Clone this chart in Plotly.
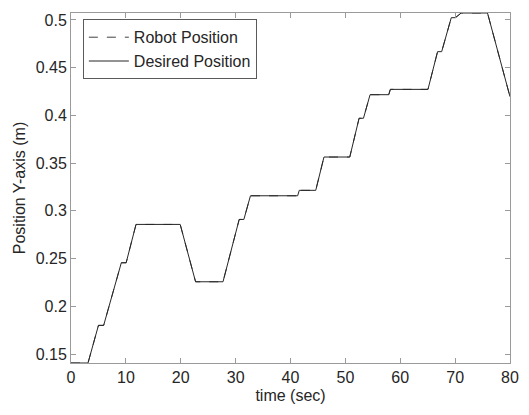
import plotly.graph_objects as go

# Data (time in sec, position in m)
time_s = [0, 3.1, 5.0, 5.95, 9.17, 10.05, 11.85, 19.9, 22.7, 27.7, 30.65, 31.5, 32.7,
          41.3, 41.6, 44.6, 46.1, 50.8, 52.5, 53.3, 54.5, 57.9, 58.2, 65.05, 66.8,
          67.55, 69.3, 70.05, 71.1, 75.9, 80]
desired_y = [0.1406, 0.1406, 0.180, 0.180, 0.2456, 0.2456, 0.2858, 0.2858, 0.2257, 0.2257,
             0.291, 0.291, 0.3158, 0.3158, 0.3215, 0.3215, 0.3564, 0.3564, 0.397, 0.397,
             0.4217, 0.4217, 0.4273, 0.4273, 0.4668, 0.4668, 0.5024, 0.5024, 0.5073,
             0.5073, 0.4196]
robot_y = list(desired_y)

xticks = [0, 10, 20, 30, 40, 50, 60, 70, 80]
yticks = [0.15, 0.2, 0.25, 0.3, 0.35, 0.4, 0.45, 0.5]
yticklabels = ["0.15", "0.2", "0.25", "0.3", "0.35", "0.4", "0.45", "0.5"]

font = "Liberation Sans, Arial, sans-serif"
axis_col = "#9a9a9a"
text_col = "#262626"

fig = go.Figure()
fig.add_trace(go.Scatter(x=time_s, y=robot_y, mode="lines", name="Robot Position",
                         line=dict(color="#404040", width=1, dash="dash")))
fig.add_trace(go.Scatter(x=time_s, y=desired_y, mode="lines", name="Desired Position",
                         line=dict(color="#262626", width=1)))

fig.update_layout(
    width=529, height=415,
    margin=dict(l=71, r=10, t=13, b=52),
    paper_bgcolor="white", plot_bgcolor="white",
    font=dict(family=font, size=16, color=text_col),
    showlegend=True,
    legend=dict(x=0.027, y=0.982, xanchor="left", yanchor="top",
                bgcolor="white", bordercolor="#5a5a5a", borderwidth=1,
                font=dict(size=16, color=text_col),
                tracegroupgap=0, itemwidth=40),
    xaxis=dict(range=[0, 80], tickvals=xticks, ticks="inside", ticklen=5,
               tickcolor=axis_col, showline=True, linecolor=axis_col, linewidth=1,
               mirror="ticks", showgrid=False, zeroline=False,
               title=dict(text="time (sec)", standoff=4, font=dict(size=16)),
               tickfont=dict(size=16)),
    yaxis=dict(range=[0.1406, 0.5073], tickvals=yticks, ticktext=yticklabels,
               ticks="inside", ticklen=5, tickcolor=axis_col, showline=True,
               linecolor=axis_col, linewidth=1, mirror="ticks", showgrid=False,
               zeroline=False,
               title=dict(text="Position Y-axis (m)", standoff=6, font=dict(size=16)),
               tickfont=dict(size=16)),
)

fig.write_html("out.html")
